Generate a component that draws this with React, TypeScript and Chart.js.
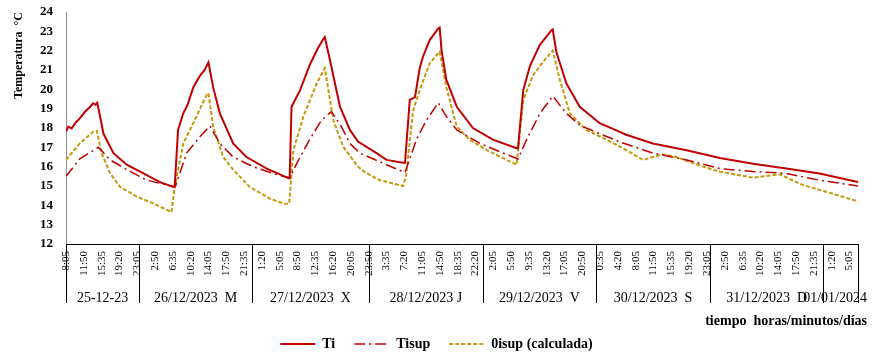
import React, { useEffect, useRef } from "react";
import { Chart, registerables } from "chart.js";

Chart.register(...registerables);

// hours elapsed since 25-12-23 08:05
const tiTime = [0, 0.5, 1.2, 1.9, 2.9, 4.0, 5.1, 5.7, 6.2, 6.6, 7.9, 10.0, 12.8, 16.3, 19.8, 22.6, 22.9, 23.6, 24.7, 25.6, 26.8, 28.2, 29.2, 30.0, 31.0, 32.4, 35.2, 38.0, 42.3, 46.5, 47.1, 47.5, 49.3, 51.4, 53.0, 54.2, 54.5, 55.6, 57.7, 59.8, 61.5, 65.4, 67.5, 71.0, 71.4, 72.4, 73.5, 74.5, 75.2, 76.6, 78.4, 78.7, 79.1, 80.1, 82.3, 85.7, 89.9, 94.9, 95.2, 96.3, 97.7, 99.8, 102.3, 102.5, 103.3, 105.4, 108.2, 112.4, 116.6, 118.0, 123.6, 130.7, 137.7, 144.7, 151.7, 158.7, 166.8];
const tiTemp = [17.8, 18.07, 17.98, 18.24, 18.5, 18.84, 19.1, 19.28, 19.2, 19.3, 17.7, 16.7, 16.1, 15.65, 15.2, 14.95, 15.0, 17.9, 18.76, 19.2, 20.1, 20.7, 21.0, 21.4, 20.1, 18.76, 17.2, 16.5, 15.9, 15.45, 15.4, 19.1, 19.96, 21.3, 22.1, 22.6, 22.7, 21.5, 19.1, 17.9, 17.3, 16.7, 16.35, 16.2, 16.2, 19.45, 19.6, 21.1, 21.7, 22.55, 23.15, 23.2, 22.0, 20.5, 19.1, 18.0, 17.4, 16.95, 16.95, 19.96, 21.2, 22.3, 23.07, 23.1, 21.9, 20.3, 19.1, 18.25, 17.8, 17.65, 17.2, 16.85, 16.45, 16.15, 15.9, 15.65, 15.2];

const tisupTime = [0, 2.9, 6.8, 9.3, 12.8, 17.0, 22.2, 23.0, 25.4, 28.2, 30.3, 32.4, 35.2, 39.4, 43.6, 47.1, 48.6, 51.3, 53.8, 55.9, 58.0, 59.8, 61.9, 67.5, 71.4, 73.8, 75.9, 78.4, 80.1, 82.3, 87.2, 91.4, 95.2, 97.0, 99.8, 102.5, 105.4, 108.2, 112.4, 117.0, 123.6, 130.7, 137.7, 144.7, 151.7, 158.7, 166.8];
const tisupTemp = [15.5, 16.4, 17.0, 16.35, 15.85, 15.3, 15.0, 14.95, 16.7, 17.55, 18.1, 17.2, 16.5, 16.0, 15.65, 15.4, 16.17, 17.4, 18.4, 18.85, 18.07, 17.2, 16.7, 16.1, 15.7, 17.4, 18.4, 19.3, 18.6, 17.9, 17.2, 16.77, 16.4, 17.4, 18.75, 19.65, 18.75, 18.15, 17.7, 17.25, 16.7, 16.35, 15.9, 15.75, 15.65, 15.3, 15.0];

const thetaTime = [0, 2.9, 5.7, 6.5, 7.5, 9.3, 11.4, 14.9, 18.4, 22.2, 22.9, 24.7, 26.8, 29.6, 30.0, 31.0, 33.1, 35.2, 38.7, 42.9, 46.1, 47.0, 47.9, 50.0, 52.8, 54.5, 56.3, 58.4, 61.5, 63.0, 66.1, 71.0, 71.6, 73.1, 74.5, 76.6, 78.7, 80.1, 82.3, 85.0, 88.6, 92.8, 94.9, 96.3, 98.4, 100.5, 102.5, 104.0, 106.1, 109.6, 113.8, 118.0, 121.5, 125.7, 128.5, 134.2, 137.7, 144.7, 150.3, 155.2, 160.1, 166.8];
const thetaTemp = [16.35, 17.2, 17.8, 17.85, 16.7, 15.65, 14.95, 14.45, 14.1, 13.65, 14.95, 17.2, 18.25, 19.7, 19.8, 18.07, 16.5, 15.85, 14.95, 14.35, 14.07, 14.1, 16.86, 18.6, 20.3, 21.1, 18.4, 17.03, 16.0, 15.7, 15.3, 15.0, 15.5, 18.9, 19.96, 21.35, 21.95, 20.1, 18.07, 17.4, 16.86, 16.35, 16.1, 19.45, 20.74, 21.43, 22.0, 20.5, 18.76, 17.9, 17.4, 16.86, 16.35, 16.64, 16.5, 16.0, 15.74, 15.43, 15.6, 15.05, 14.7, 14.2];

const timeLabels = ["8:05", "11:50", "15:35", "19:20", "23:05", "2:50", "6:35", "10:20", "14:05", "17:50", "21:35", "1:20", "5:05", "8:50", "12:35", "16:20", "20:05", "23:50", "3:35", "7:20", "11:05", "14:50", "18:35", "22:20", "2:05", "5:50", "9:35", "13:20", "17:05", "20:50", "0:35", "4:20", "8:05", "11:50", "15:35", "19:20", "23:05", "2:50", "6:35", "10:20", "14:05", "17:50", "21:35", "1:20", "5:05"];
const tickStepHours = 3.75;

const dayLabels = ["25-12-23", "26/12/2023  M", "27/12/2023  X", "28/12/2023 J", "29/12/2023  V", "30/12/2023  S", "31/12/2023  D", "01/01/2024"];
const dayBoundaries = [15.4, 39.2, 63.8, 87.8, 111.6, 135.7, 159.4];

const seriesNames = ["Ti", "Tisup", "0isup (calculada)"];
const yTitle = "Temperatura  °C";
const xTitle = "tiempo  horas/minutos/días";

const FONT = "'Liberation Serif', 'Times New Roman', serif";

const toXY = (t: number[], v: number[]) => t.map((x, i) => ({ x, y: v[i] }));

const dayAxisPlugin = {
  id: "dayAxis",
  afterDraw(chart: any) {
    const { ctx, chartArea } = chart;
    const xs = chart.scales.x;
    const bottom = chartArea.bottom;
    const lineEnd = bottom + 59;
    const bounds = [xs.min, ...dayBoundaries, xs.max];
    ctx.save();
    ctx.strokeStyle = "#000";
    ctx.lineWidth = 1;
    ctx.beginPath();
    bounds.forEach((b) => {
      const px = Math.round(xs.getPixelForValue(b)) + 0.5;
      ctx.moveTo(px, bottom);
      ctx.lineTo(px, lineEnd);
    });
    ctx.stroke();
    ctx.fillStyle = "#000";
    ctx.font = "14px " + FONT;
    ctx.textAlign = "center";
    ctx.textBaseline = "middle";
    for (let i = 0; i < dayLabels.length; i++) {
      const p0 = xs.getPixelForValue(bounds[i]);
      const p1 = xs.getPixelForValue(bounds[i + 1]);
      let cx = (p0 + p1) / 2;
      const w = ctx.measureText(dayLabels[i]).width;
      if (cx + w / 2 > chart.width - 6) cx = chart.width - 6 - w / 2;
      ctx.fillText(dayLabels[i], cx, bottom + 54);
    }
    ctx.font = "bold 14px " + FONT;
    ctx.textAlign = "right";
    ctx.fillText(xTitle, chart.width - 6, 321);
    ctx.restore();
  },
};

export default function App() {
  const ref = useRef<HTMLCanvasElement>(null);
  useEffect(() => {
    if (!ref.current) return;
    const chart = new Chart(ref.current, {
      type: "line",
      data: {
        datasets: [
          {
            label: seriesNames[0],
            data: toXY(tiTime, tiTemp),
            borderColor: "#C00000",
            backgroundColor: "#C00000",
            borderWidth: 2,
            pointRadius: 0,
            tension: 0,
          },
          {
            label: seriesNames[1],
            data: toXY(tisupTime, tisupTemp),
            borderColor: "#C00000",
            backgroundColor: "#C00000",
            borderWidth: 1.5,
            borderDash: [11, 4, 2, 4],
            pointRadius: 0,
            tension: 0,
          },
          {
            label: seriesNames[2],
            data: toXY(thetaTime, thetaTemp),
            borderColor: "#C49A0C",
            backgroundColor: "#C49A0C",
            borderWidth: 2,
            borderDash: [4, 2],
            pointRadius: 0,
            tension: 0,
          },
        ],
      },
      options: {
        responsive: false,
        animation: false,
        devicePixelRatio: 1,
        layout: { padding: { left: 0, right: 0, top: 12, bottom: 0 } },
        plugins: {
          legend: {
            position: "bottom",
            labels: {
              usePointStyle: true,
              pointStyleWidth: 35,
              padding: 19,
              color: "#000",
              font: { family: FONT, size: 14, weight: "bold" },
              generateLabels: (c: any) =>
                c.data.datasets.map((ds: any, i: number) => ({
                  text: ds.label,
                  strokeStyle: ds.borderColor,
                  fillStyle: ds.borderColor,
                  lineWidth: ds.borderWidth,
                  lineDash: ds.borderDash || [],
                  pointStyle: "line",
                  datasetIndex: i,
                  hidden: false,
                  fontColor: "#000",
                })),
            },
          },
          tooltip: { enabled: false },
        },
        scales: {
          x: {
            type: "linear",
            min: 0,
            max: 166.8,
            grid: { display: false, drawTicks: false },
            border: { display: true, color: "#000", width: 1 },
            afterBuildTicks: (scale: any) => {
              scale.ticks = timeLabels.map((_, i) => ({ value: i * tickStepHours }));
            },
            afterFit: (scale: any) => {
              scale.height = 74;
            },
            ticks: {
              autoSkip: false,
              maxRotation: 90,
              minRotation: 90,
              padding: 7,
              color: "#000",
              font: { family: FONT, size: 11 },
              callback: (_v: any, i: number) => timeLabels[i],
            },
          },
          y: {
            min: 12,
            max: 24,
            grid: {
              display: true,
              drawOnChartArea: false,
              drawTicks: true,
              tickLength: 13,
              color: "rgba(0,0,0,0)",
            },
            border: { display: true, color: "#8c8c8c", width: 1 },
            afterFit: (scale: any) => {
              scale.width = 66;
            },
            ticks: {
              stepSize: 1,
              autoSkip: false,
              padding: 0,
              color: "#000",
              font: { family: FONT, size: 13, weight: "bold" },
            },
            title: {
              display: true,
              text: yTitle,
              align: "end",
              color: "#000",
              padding: { top: 12, bottom: 0 },
              font: { family: FONT, size: 12, weight: "bold" },
            },
          },
          yRight: {
            type: "linear",
            position: "right",
            min: 12,
            max: 24,
            grid: { display: false, drawTicks: false },
            border: { display: false },
            ticks: { display: false },
            afterFit: (scale: any) => {
              scale.width = 15;
            },
          },
        },
      },
      plugins: [dayAxisPlugin],
    } as any);
    return () => chart.destroy();
  }, []);
  return (
    <div style={{ position: "fixed", left: 0, top: 0, width: 873, height: 361, background: "#fff" }}>
      <canvas ref={ref} width={873} height={361} style={{ width: 873, height: 361 }} />
    </div>
  );
}
